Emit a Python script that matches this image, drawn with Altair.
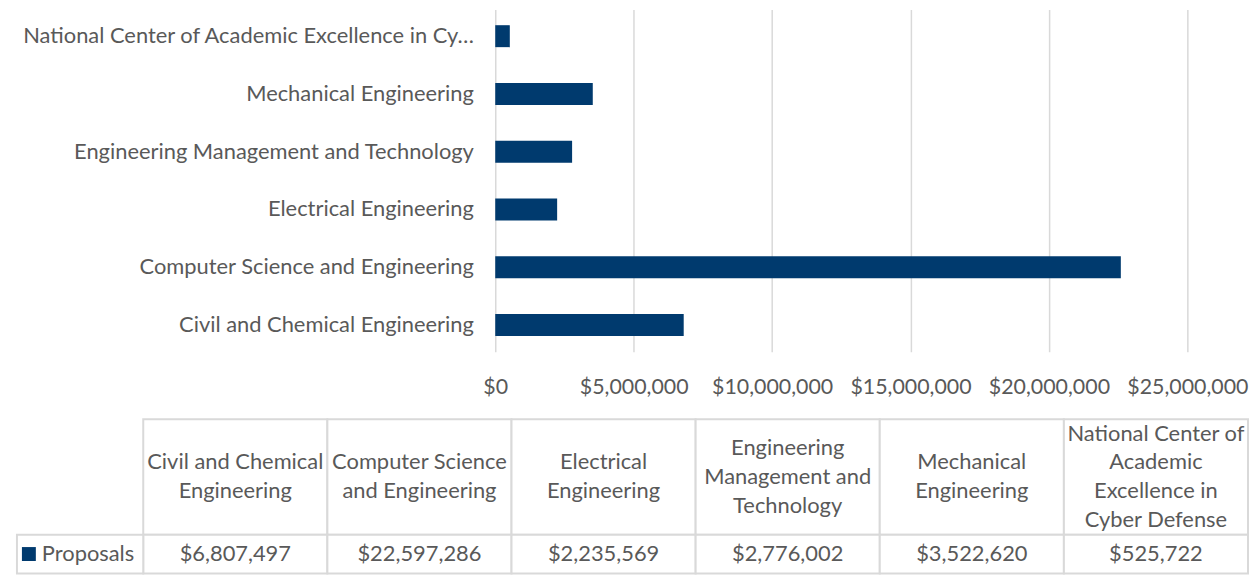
import altair as alt
import pandas as pd

categories = [
    "Civil and Chemical Engineering",
    "Computer Science and Engineering",
    "Electrical Engineering",
    "Engineering Management and Technology",
    "Mechanical Engineering",
    "National Center of Academic Excellence in Cyber Defense",
]
values = [6807497, 22597286, 2235569, 2776002, 3522620, 525722]
header_labels = [
    "Civil and Chemical\nEngineering",
    "Computer Science\nand Engineering",
    "Electrical\nEngineering",
    "Engineering\nManagement and\nTechnology",
    "Mechanical\nEngineering",
    "National Center of\nAcademic\nExcellence in\nCyber Defense",
]
tick_values = [0, 5000000, 10000000, 15000000, 20000000, 25000000]
series_name = "Proposals"

NAVY = "#003a6e"
GRAY = "#595959"
LINE = "#d9d9d9"
FONT = "Lato"
FS = 22
LH = 29

ORIGIN = 498  # page x of plot origin
X_END = 1194  # page x of the $25,000,000 gridline
TBL_L, TBL_R, LEG_L = 144, 1255, 17
HEAD_H, VAL_H = 116, 39

df = pd.DataFrame({
    "category": categories,
    "value": values,
    "header": header_labels,
    "section_h": "header",
    "section_v": "value",
    "series": series_name,
})

bars = alt.Chart(df).mark_bar(color=NAVY).encode(
    x=alt.X("value:Q",
            scale=alt.Scale(domain=[0, 25000000], nice=False),
            axis=alt.Axis(values=tick_values, format="$,.0f", title=None,
                          grid=True, gridColor=LINE, gridWidth=1.5,
                          domain=False, ticks=False, labelPadding=25,
                          labelFontSize=21.5,
                          labelOverlap=False, labelFlush=False)),
    y=alt.Y("category:N", sort=list(reversed(categories)),
            scale=alt.Scale(paddingInner=0.62, paddingOuter=0.27),
            axis=alt.Axis(title=None, ticks=False, domain=False,
                          labelLimit=467, labelPadding=22)),
).properties(width=X_END - ORIGIN, height=344)

xcat = alt.X("category:N", sort=categories,
             scale=alt.Scale(domain=categories,
                             range=[TBL_L - ORIGIN, TBL_R - ORIGIN],
                             paddingInner=0, paddingOuter=0),
             axis=None)
yh = alt.Y("section_h:N", scale=alt.Scale(domain=["header"], range=[0, HEAD_H],
                                          paddingInner=0, paddingOuter=0), axis=None)
yv = alt.Y("section_v:N", scale=alt.Scale(domain=["value"], range=[HEAD_H, HEAD_H + VAL_H],
                                          paddingInner=0, paddingOuter=0), axis=None)
xleg = alt.X("series:N", scale=alt.Scale(domain=[series_name],
                                         range=[LEG_L - ORIGIN, TBL_L - ORIGIN],
                                         paddingInner=0, paddingOuter=0),
             axis=None)

base = alt.Chart(df)
head_cells = base.mark_rect(fill="white", stroke=LINE, strokeWidth=2).encode(x=xcat, y=yh)
head_text = base.transform_calculate(
    nlines="length(split(datum.header, '\\n'))"
).transform_calculate(
    off=f"{HEAD_H / 2} - (datum.nlines - 1) * {LH} / 2"
).mark_text(lineBreak="\n", lineHeight=LH, fontSize=FS, color=GRAY,
            baseline="middle").encode(
    x=xcat, y=yh, yOffset=alt.YOffset("off:Q", scale=None), text="header:N")
val_cells = base.mark_rect(fill="white", stroke=LINE, strokeWidth=2).encode(x=xcat, y=yv)
val_text = base.mark_text(fontSize=FS, color=GRAY, baseline="middle").encode(
    x=xcat, y=yv, text=alt.Text("value:Q", format="$,.0f"))

leg_df = df.head(1)
leg_base = alt.Chart(leg_df)
leg_cell = leg_base.mark_rect(fill="white", stroke=LINE, strokeWidth=2).encode(x=xleg, y=yv)
leg_sym = leg_base.mark_square(color=NAVY, size=196, opacity=1, xOffset=-51.5).encode(x=xleg, y=yv)
leg_text = leg_base.mark_text(fontSize=FS, color=GRAY, align="left", baseline="middle",
                              dx=-38.5).encode(x=xleg, y=yv, text="series:N")

table = alt.layer(head_cells, val_cells, leg_cell, head_text, val_text, leg_sym, leg_text).resolve_scale(
    x="independent", y="independent").properties(width=TBL_R - ORIGIN, height=HEAD_H + VAL_H)

chart = alt.vconcat(bars, table, spacing=68, bounds="flush").properties(
    padding={"left": 8, "top": 0, "right": 0, "bottom": 0}
).configure(font=FONT).configure_view(stroke=None).configure_axis(
    labelFont=FONT, labelFontSize=FS, labelColor=GRAY
)

chart.save("out.html", embed_options={"renderer": "svg", "actions": False})
